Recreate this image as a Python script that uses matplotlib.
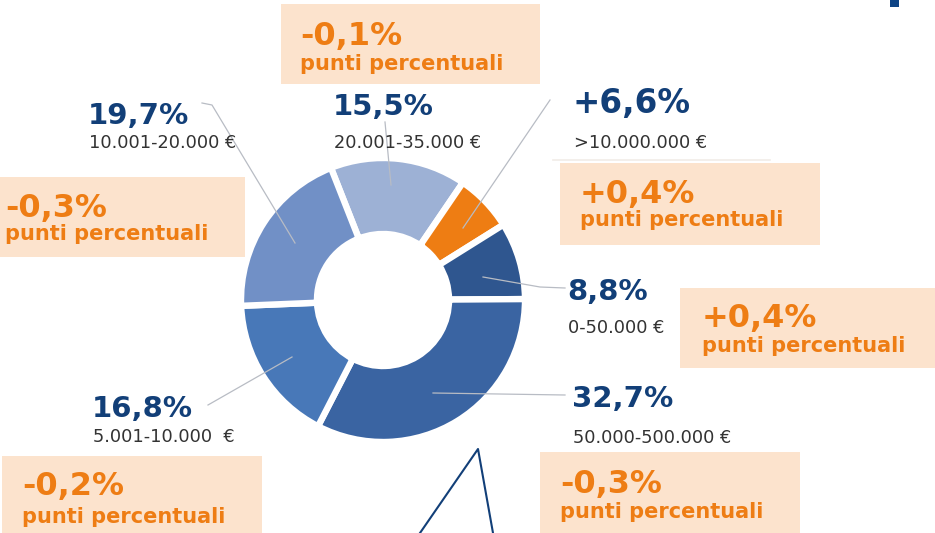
import matplotlib
matplotlib.use("Agg")
import matplotlib.pyplot as plt
from matplotlib.patches import Rectangle

W, H = 935, 533

# quote per fascia di fatturato (ordine orario, partendo da 20.001-35.000)
shares = [15.5, 6.6, 8.8, 32.7, 16.8, 19.7]
pct_labels = ["15,5%", "+6,6%", "8,8%", "32,7%", "16,8%", "19,7%"]
ranges = ["20.001-35.000 €", ">10.000.000 €", "0-50.000 €",
          "50.000-500.000 €", "5.001-10.000  €", "10.001-20.000 €"]
deltas = ["-0,1%", "+0,4%", "+0,4%", "-0,3%", "-0,2%", "-0,3%"]
colors = ["#9db1d5", "#ee7d13", "#2f568f", "#3a64a2", "#4878b8", "#7190c6"]

NAVY = "#123f78"
ORANGE = "#ee7d14"
PEACH = "#fce3cd"

def Y(y):
    # pixel (dall'alto) -> coordinate dati
    return H - y

fig = plt.figure(figsize=(W / 100, H / 100), dpi=100)
ax = fig.add_axes([0, 0, 1, 1])

cx, cy, R, r = 383, Y(300), 142, 66
ax.pie(shares, colors=colors, startangle=111.5, counterclock=False,
       center=(cx, cy), radius=R, frame=True,
       wedgeprops=dict(width=R - r, edgecolor="white", linewidth=4.6))

# linee guida grigie
leaders = [
    [(385, 122), (391, 185)],
    [(550, 100), (463, 228)],
    [(483, 277), (540, 287), (565, 288)],
    [(433, 393), (565, 395)],
    [(292, 357), (208, 405)],
    [(295, 243), (212, 105), (202, 103)],
]
for pts in leaders:
    ax.plot([p[0] for p in pts], [Y(p[1]) for p in pts], color="#b8bcc4", lw=0.9, zorder=3)
ax.plot([553, 770], [Y(160), Y(160)], color="#f1ece8", lw=1.2)

# etichette: (x, baseline percentuale, baseline fascia, fontsize)
label_pos = [
    (333, 115, 148, 21),
    (573, 113, 148, 23.5),
    (567, 300, 333, 21),
    (572, 407, 443, 21),
    (92, 417, 442, 21),
    (88, 124, 148, 21),
]
for (x, yb, yr, fs), p, rg in zip(label_pos, pct_labels, ranges):
    ax.text(x, Y(yb), p, color=NAVY, fontsize=fs, fontweight="bold",
            ha="left", va="baseline", zorder=5)
    ax.text(x + 1, Y(yr), rg, color="#333333", fontsize=12.8,
            ha="left", va="baseline", zorder=5)

# riquadri variazione in punti percentuali: (x0, y0, x1, y1, tx, base1, base2)
boxes = [
    (281, 4, 540, 84, 300, 45, 70),
    (560, 163, 820, 245, 580, 203, 226),
    (680, 288, 935, 368, 702, 327, 352),
    (540, 452, 800, 533, 560, 493, 518),
    (2, 456, 262, 533, 22, 495, 523),
    (0, 177, 245, 257, 5, 217, 240),
]
for (x0, y0, x1, y1, tx, b1, b2), d in zip(boxes, deltas):
    ax.add_patch(Rectangle((x0, Y(y1)), x1 - x0, y1 - y0, facecolor=PEACH,
                           edgecolor="none", zorder=4))
    ax.text(tx, Y(b1), d, color=ORANGE, fontsize=23, fontweight="bold",
            ha="left", va="baseline", zorder=5)
    ax.text(tx, Y(b2), "punti percentuali", color=ORANGE, fontsize=15,
            fontweight="bold", ha="left", va="baseline", zorder=5)

# richiamo blu in basso e frammento del titolo in alto a destra
ax.plot([420, 478, 493], [Y(533), Y(449), Y(533)], color=NAVY, lw=1.5, zorder=5)
ax.add_patch(Rectangle((890, Y(7)), 9, 7, facecolor="#0d4485", edgecolor="none"))

ax.set_xlim(0, W)
ax.set_ylim(0, H)
ax.set_aspect("auto")
ax.axis("off")

fig.savefig("out.png", dpi=100)
